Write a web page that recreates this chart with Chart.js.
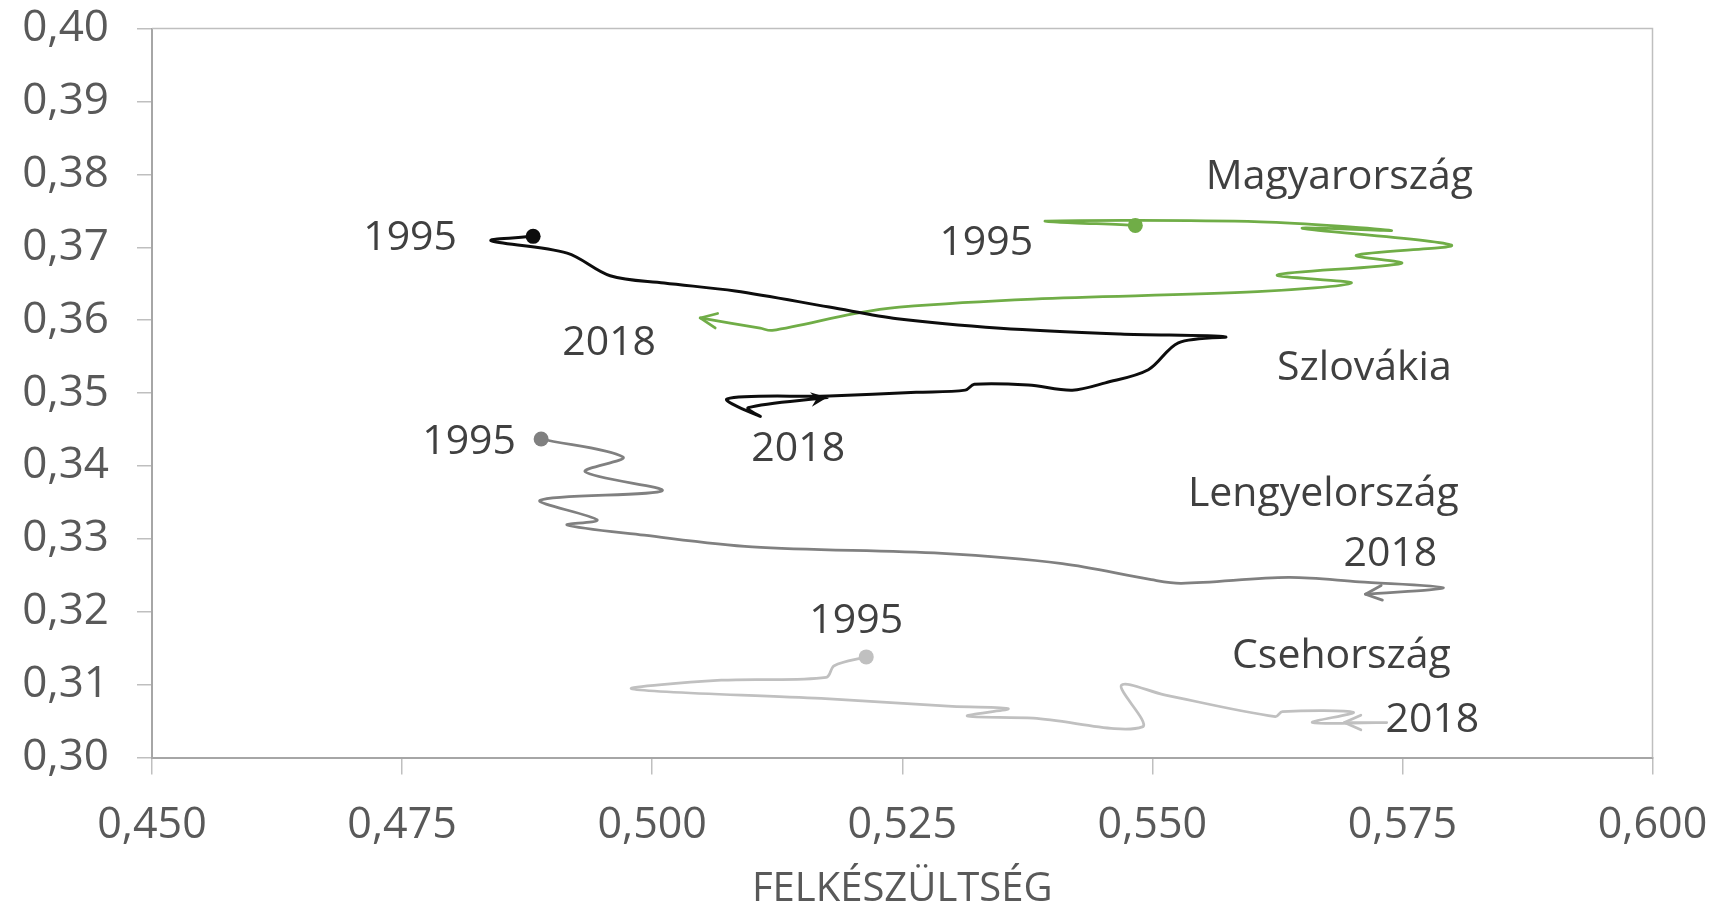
<!DOCTYPE html>
<html lang="hu">
<head>
<meta charset="utf-8">
<title>Felkészültség</title>
<script src="https://cdn.jsdelivr.net/npm/chart.js@4.4.1/dist/chart.umd.min.js"></script>
<style>
    html, body { margin: 0; padding: 0; background: #fff; }
    #wrap { width: 1714px; height: 905px; }
</style>
</head>
<body>
<div id="wrap"><canvas id="chart" width="1714" height="905"></canvas></div>
<script>
// Országok pályái 1995 -> 2018 (x: felkészültség, y: érték)
const skX = [0.4881, 0.4839, 0.4915, 0.4958, 0.5012, 0.5083, 0.5177, 0.5245, 0.5348, 0.5468, 0.5573, 0.5526,
             0.5496, 0.5453, 0.5420, 0.5376, 0.5322, 0.5313, 0.5264, 0.5177, 0.5075, 0.5108, 0.5096, 0.5175];
const skY = [0.3715, 0.3709, 0.3692, 0.3661, 0.3651, 0.3640, 0.3618, 0.3602, 0.3589, 0.3581, 0.3577, 0.3569,
             0.3532, 0.3514, 0.3504, 0.3511, 0.3512, 0.3504, 0.3501, 0.3496, 0.3492, 0.3468, 0.3480, 0.3494];

const huX = [0.5483, 0.5394, 0.5608, 0.5739, 0.5650, 0.5799, 0.5704, 0.5749, 0.5625, 0.5699, 0.5605, 0.5381,
             0.5247, 0.5202, 0.5120, 0.5108, 0.5048];
const huY = [0.3730, 0.3736, 0.3735, 0.3723, 0.3726, 0.3703, 0.3689, 0.3678, 0.3662, 0.3651, 0.3639, 0.3629,
             0.3618, 0.3609, 0.3586, 0.3589, 0.3603];

const plX = [0.4889, 0.4971, 0.4933, 0.5010, 0.4888, 0.4945, 0.4915, 0.4992, 0.5100, 0.5290, 0.5410, 0.5499,
             0.5529, 0.5636, 0.5707, 0.5791, 0.5713];
const plY = [0.3437, 0.3412, 0.3392, 0.3366, 0.3353, 0.3326, 0.3319, 0.3305, 0.3289, 0.3280, 0.3266, 0.3244,
             0.3239, 0.3247, 0.3241, 0.3233, 0.3224];

const czX = [0.5214, 0.5182, 0.5174, 0.5069, 0.4980, 0.5169, 0.5300, 0.5356, 0.5315, 0.5381, 0.5490, 0.5469,
             0.5512, 0.5623, 0.5630, 0.5701, 0.5660, 0.5734, 0.5692];
const czY = [0.3138, 0.3126, 0.3110, 0.3106, 0.3094, 0.3081, 0.3070, 0.3067, 0.3057, 0.3054, 0.3042, 0.3099,
             0.3086, 0.3056, 0.3063, 0.3062, 0.3048, 0.3048, 0.3048];

const countries = ['Szlovákia', 'Magyarország', 'Lengyelország', 'Csehország'];
const xTicks = [0.450, 0.475, 0.500, 0.525, 0.550, 0.575, 0.600];
const yTicks = [0.30, 0.31, 0.32, 0.33, 0.34, 0.35, 0.36, 0.37, 0.38, 0.39, 0.40];
const xTitle = 'FELKÉSZÜLTSÉG';

// feliratok a diagramon (adat-koordinátában)
const notes = [
    { text: 'Magyarország', x: 0.5687, y: 0.3796 },
    { text: '1995', x: 0.5334, y: 0.3706 },
    { text: '2018', x: 0.4957, y: 0.3568 },
    { text: '1995', x: 0.4758, y: 0.3712 },
    { text: 'Szlovákia', x: 0.5712, y: 0.3534 },
    { text: '2018', x: 0.5146, y: 0.3423 },
    { text: '1995', x: 0.4817, y: 0.3433 },
    { text: 'Lengyelország', x: 0.5671, y: 0.3361 },
    { text: '2018', x: 0.5738, y: 0.3279 },
    { text: '1995', x: 0.5204, y: 0.3187 },
    { text: 'Csehország', x: 0.5689, y: 0.3139 },
    { text: '2018', x: 0.5780, y: 0.3051 }
];

function toPoints(xs, ys) {
    return xs.map((x, i) => ({ x: x, y: ys[i] }));
}

function makeSeries(label, xs, ys, color, width, arrow) {
    return {
        label: label,
        data: toPoints(xs, ys),
        showLine: true,
        tension: 0.33,
        borderColor: color,
        backgroundColor: color,
        borderWidth: width,
        borderJoinStyle: 'round',
        borderCapStyle: 'round',
        pointRadius: c => c.dataIndex === 0 ? 7.5 : 0,
        pointBorderWidth: 0,
        pointHoverRadius: 0,
        arrow: arrow
    };
}

// nyílhegy a pálya végén (2018)
const arrowPlugin = {
    id: 'arrows',
    afterDatasetsDraw(chart) {
        const ctx = chart.ctx;
        chart.data.datasets.forEach((ds, i) => {
            const pts = chart.getDatasetMeta(i).data;
            const last = pts[pts.length - 1];
            const prev = pts[pts.length - 2];
            let dx = last.x - (last.cp1x ?? prev.x);
            let dy = last.y - (last.cp1y ?? prev.y);
            if (Math.hypot(dx, dy) < 0.5) { dx = last.x - prev.x; dy = last.y - prev.y; }
            const a = Math.atan2(dy, dx);
            const len = 18, spread = 0.42;
            ctx.save();
            ctx.translate(last.x, last.y);
            ctx.rotate(a);
            ctx.strokeStyle = ds.borderColor;
            ctx.fillStyle = ds.borderColor;
            ctx.lineWidth = ds.borderWidth;
            ctx.lineCap = 'round';
            ctx.lineJoin = 'round';
            ctx.beginPath();
            if (ds.arrow === 'stealth') {
                ctx.moveTo(0, 0);
                ctx.lineTo(-len * Math.cos(spread), -len * Math.sin(spread));
                ctx.lineTo(-len * 0.6, 0);
                ctx.lineTo(-len * Math.cos(spread), len * Math.sin(spread));
                ctx.closePath();
                ctx.fill();
            } else {
                ctx.moveTo(-len * Math.cos(spread), -len * Math.sin(spread));
                ctx.lineTo(0, 0);
                ctx.lineTo(-len * Math.cos(spread), len * Math.sin(spread));
                ctx.stroke();
            }
            ctx.restore();
        });
    }
};

// keret + szöveges címkék
const decorPlugin = {
    id: 'decor',
    beforeDatasetsDraw(chart) {
        const { ctx, chartArea: a } = chart;
        ctx.save();
        ctx.strokeStyle = '#bfbfbf';
        ctx.lineWidth = 1.5;
        ctx.beginPath();
        ctx.moveTo(a.left, a.top);
        ctx.lineTo(a.right, a.top);
        ctx.lineTo(a.right, a.bottom);
        ctx.stroke();
        ctx.restore();
    },
    afterDraw(chart) {
        const ctx = chart.ctx;
        const xs = chart.scales.x, ys = chart.scales.y;
        ctx.save();
        ctx.font = '41px "Open Sans"';
        ctx.fillStyle = '#404040';
        ctx.textAlign = 'center';
        ctx.textBaseline = 'middle';
        notes.forEach(n => {
            ctx.fillText(n.text, xs.getPixelForValue(n.x), ys.getPixelForValue(n.y));
        });
        ctx.restore();
    }
};

function initializeChart() {
    const ctx = document.getElementById('chart').getContext('2d');
    new Chart(ctx, {
        type: 'scatter',
        data: {
            datasets: [
                makeSeries(countries[0], skX, skY, '#0d0d0d', 3, 'stealth'),
                makeSeries(countries[1], huX, huY, '#70ad47', 2.75, 'open'),
                makeSeries(countries[2], plX, plY, '#808080', 2.75, 'open'),
                makeSeries(countries[3], czX, czY, '#c0c0c0', 2.75, 'open')
            ]
        },
        options: {
            responsive: false,
            devicePixelRatio: 1,
            animation: false,
            layout: { padding: { top: 28.6, right: 61.5, bottom: 0, left: 0 } },
            plugins: {
                legend: { display: false },
                tooltip: { enabled: false }
            },
            scales: {
                x: {
                    type: 'linear',
                    min: xTicks[0],
                    max: xTicks[xTicks.length - 1],
                    afterBuildTicks: s => { s.ticks = xTicks.map(v => ({ value: v })); },
                    afterFit: s => { s.height = 147.5; s.paddingLeft = 0; s.paddingRight = 0; },
                    grid: { drawOnChartArea: false, drawTicks: true, tickLength: 17, color: '#bfbfbf', lineWidth: 1.5 },
                    border: { display: true, color: '#a6a6a6', width: 2 },
                    ticks: {
                        padding: 25,
                        color: '#595959',
                        font: { family: 'Open Sans', size: 43 },
                        maxRotation: 0,
                        callback: v => v.toFixed(3).replace('.', ',')
                    },
                    title: {
                        display: true,
                        text: xTitle,
                        color: '#595959',
                        font: { family: 'Open Sans', size: 40, lineHeight: 0.75 },
                        padding: { top: 0, bottom: 0 }
                    }
                },
                y: {
                    type: 'linear',
                    min: yTicks[0],
                    max: yTicks[yTicks.length - 1],
                    afterBuildTicks: s => { s.ticks = yTicks.map(v => ({ value: v })); },
                    afterFit: s => { s.width = 152; s.paddingTop = 0; s.paddingBottom = 0; },
                    grid: { drawOnChartArea: false, drawTicks: true, tickLength: 15, color: '#bfbfbf', lineWidth: 1.5 },
                    border: { display: true, color: '#a6a6a6', width: 2 },
                    ticks: {
                        padding: 28,
                        color: '#595959',
                        font: { family: 'Open Sans', size: 44 },
                        callback: v => v.toFixed(2).replace('.', ',')
                    }
                }
            }
        },
        plugins: [decorPlugin, arrowPlugin]
    });
}

window.onload = function() {
    initializeChart();
};
</script>
</body>
</html>
